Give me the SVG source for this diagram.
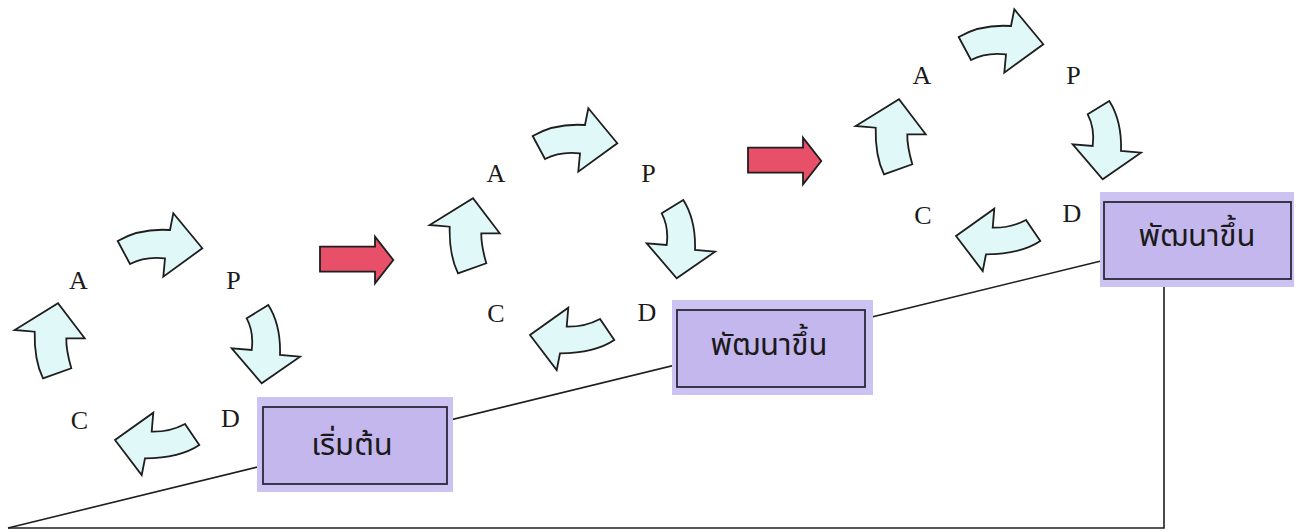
<svg xmlns="http://www.w3.org/2000/svg" xmlns:xlink="http://www.w3.org/1999/xlink" width="1303" height="531" viewBox="0 0 1303 531">
<style>
.bg{fill:#ffffff}
.cyc{fill:#e0f8f8;stroke:#1e1e1e;stroke-width:1.8;stroke-linejoin:miter}
.red{fill:#e8506a;stroke:#1e1e1e;stroke-width:1.8}
.lbl{font-family:"Liberation Serif","Times New Roman",serif;font-size:26px;fill:#1a1a1a;text-anchor:middle}
.pad{fill:#cdc3f2}
.box{fill:#c4b7ed;stroke:#2a2838;stroke-width:1.8}
.th{font-family:"Noto Sans Thai","Noto Serif Thai","DejaVu Sans","Noto Sans",sans-serif;font-size:31px;fill:#1a1a1a;text-anchor:middle}
.ln{fill:none;stroke:#1e1e1e;stroke-width:1.6}
</style>
<defs>
<path id="aTop" d="M117.7,241 Q140,228 170,230 L173.3,213.3 L202.3,248.3 L163.3,276.7 L165,258.3 Q145,256 130,264 Z"/>
<path id="aRight" d="M246.7,318.3 L268.3,305 Q281,325 280,355 L300,356.7 L261.7,383.3 L231.7,348.3 L251.7,350 Q254,332 246.7,318.3 Z"/>
<path id="aLeft" d="M185,424 Q170,432 151.7,431.7 L153.3,412.7 L115,440 L141.7,475 L145,458.3 Q180,458 199.3,445 Z"/>
<path id="aUp" d="M43,378.3 L71.3,368.3 Q66,350 66.3,338.3 L84.7,338.3 L58,303.3 L14.7,330 L34.7,331.7 Q34,360 43,378.3 Z"/>
<path id="redArrow" d="M320,246.7 L375,246.7 L375,236.7 L393.3,260 L375,283.3 L375,271.7 L320,271.7 Z"/>
</defs>
<rect class="bg" x="0" y="0" width="1303" height="531"/>

<g id="connectors">
<line class="ln" x1="8" y1="528" x2="1101" y2="261"/>
<polyline class="ln" points="8,528 1164,528 1164,287"/>
</g>

<g id="cycle-1">
<use href="#aTop" class="cyc"/>
<use href="#aRight" class="cyc"/>
<use href="#aLeft" class="cyc"/>
<use href="#aUp" class="cyc"/>
<text class="lbl" x="78.5" y="288.5">A</text>
<text class="lbl" x="233.5" y="288.5">P</text>
<text class="lbl" x="79.5" y="428.5">C</text>
<text class="lbl" x="230.5" y="426.5">D</text>
</g>

<g id="cycle-2" transform="translate(415,-105)">
<use href="#aTop" class="cyc"/>
<use href="#aRight" class="cyc"/>
<use href="#aLeft" class="cyc"/>
<use href="#aUp" class="cyc"/>
<text class="lbl" x="81" y="286.5">A</text>
<text class="lbl" x="233.5" y="286.5">P</text>
<text class="lbl" x="81" y="426.5">C</text>
<text class="lbl" x="232" y="425.5">D</text>
</g>

<g id="cycle-3" transform="translate(841,-204)">
<use href="#aTop" class="cyc"/>
<use href="#aRight" class="cyc"/>
<use href="#aLeft" class="cyc"/>
<use href="#aUp" class="cyc"/>
<text class="lbl" x="81" y="287.5">A</text>
<text class="lbl" x="232.5" y="287.5">P</text>
<text class="lbl" x="82" y="427.5">C</text>
<text class="lbl" x="231" y="425.5">D</text>
</g>

<g id="red-arrow-1"><use href="#redArrow" class="red"/></g>
<g id="red-arrow-2" transform="translate(428,-99)"><use href="#redArrow" class="red"/></g>

<g id="box-start">
<rect class="pad" x="257" y="397" width="196" height="95"/>
<rect class="box" x="263" y="407" width="184" height="77"/>
<text class="th" x="352" y="455">เริ่มต้น</text>
</g>

<g id="box-develop-1">
<rect class="pad" x="672" y="300" width="201" height="95"/>
<rect class="box" x="677" y="310" width="188" height="77"/>
<text class="th" x="769" y="355">พัฒนาขึ้น</text>
</g>

<g id="box-develop-2">
<rect class="pad" x="1100" y="192" width="194" height="95"/>
<rect class="box" x="1104" y="202" width="187" height="77"/>
<text class="th" x="1197" y="246">พัฒนาขึ้น</text>
</g>
</svg>
